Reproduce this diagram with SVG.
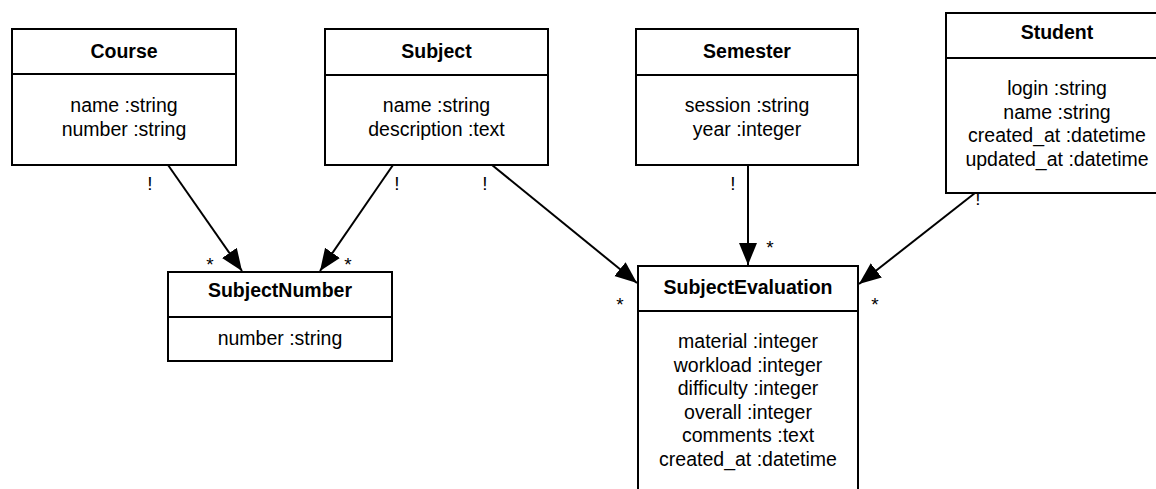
<svg xmlns="http://www.w3.org/2000/svg" width="1156" height="489" viewBox="0 0 1156 489">
<style>
.box{fill:#fff;stroke:#000;stroke-width:2}
.div{stroke:#000;stroke-width:2}
.t{font-family:"Liberation Sans",Arial,sans-serif;font-size:19.5px;font-weight:bold;text-anchor:middle;fill:#000}
.a{font-family:"Liberation Sans",Arial,sans-serif;font-size:19.5px;text-anchor:middle;fill:#000}
.m{font-family:"Liberation Sans",Arial,sans-serif;font-size:19px;text-anchor:middle;fill:#000}
.c{stroke:#000;stroke-width:2;fill:none;marker-end:url(#arr)}
</style>
<defs>
<marker id="arr" markerUnits="userSpaceOnUse" markerWidth="24" markerHeight="20" refX="22" refY="9" orient="auto">
<path d="M0,0 L22,9 L0,18 z" fill="#000"/>
</marker>
</defs>
<rect width="1156" height="489" fill="#fff"/>
<g id="course">
<rect class="box" x="12" y="29" width="224" height="136"/>
<line class="div" x1="12" y1="74" x2="236" y2="74"/>
<text class="t" x="124" y="58">Course</text>
<text class="a" x="124" y="112">name :string</text>
<text class="a" x="124" y="136">number :string</text>
</g>
<g id="subject">
<rect class="box" x="325" y="29" width="223" height="136"/>
<line class="div" x1="325" y1="75" x2="548" y2="75"/>
<text class="t" x="436.5" y="58">Subject</text>
<text class="a" x="436.5" y="112">name :string</text>
<text class="a" x="436.5" y="136">description :text</text>
</g>
<g id="semester">
<rect class="box" x="636" y="29" width="222" height="136"/>
<line class="div" x1="636" y1="75" x2="858" y2="75"/>
<text class="t" x="747" y="58">Semester</text>
<text class="a" x="747" y="112">session :string</text>
<text class="a" x="747" y="136">year :integer</text>
</g>
<g id="student">
<rect class="box" x="946" y="13" width="222" height="180"/>
<line class="div" x1="946" y1="58" x2="1168" y2="58"/>
<text class="t" x="1057" y="39">Student</text>
<text class="a" x="1057" y="95">login :string</text>
<text class="a" x="1057" y="118.5">name :string</text>
<text class="a" x="1057" y="142">created_at :datetime</text>
<text class="a" x="1057" y="165.5">updated_at :datetime</text>
</g>
<g id="subjectnumber">
<rect class="box" x="168" y="272" width="224" height="89"/>
<line class="div" x1="168" y1="317" x2="392" y2="317"/>
<text class="t" x="280" y="297">SubjectNumber</text>
<text class="a" x="280" y="345">number :string</text>
</g>
<g id="subjectevaluation">
<rect class="box" x="638" y="266" width="220" height="240"/>
<line class="div" x1="638" y1="311" x2="858" y2="311"/>
<text class="t" x="748" y="294">SubjectEvaluation</text>
<text class="a" x="748" y="348">material :integer</text>
<text class="a" x="748" y="371.5">workload :integer</text>
<text class="a" x="748" y="395">difficulty :integer</text>
<text class="a" x="748" y="418.5">overall :integer</text>
<text class="a" x="748" y="442">comments :text</text>
<text class="a" x="748" y="465.5">created_at :datetime</text>
</g>
<g id="connectors">
<line class="c" x1="168" y1="165" x2="242" y2="271"/>
<line class="c" x1="393" y1="165" x2="320" y2="271"/>
<line class="c" x1="492" y1="165" x2="637" y2="283"/>
<line class="c" x1="748" y1="165" x2="748" y2="265"/>
<line class="c" x1="975" y1="193" x2="859" y2="284"/>
<text class="m" x="150" y="190">!</text>
<text class="m" x="397" y="190">!</text>
<text class="m" x="485" y="190">!</text>
<text class="m" x="733" y="190">!</text>
<text class="m" x="978" y="205">!</text>
<text class="m" x="210" y="271">*</text>
<text class="m" x="348" y="271">*</text>
<text class="m" x="620" y="311">*</text>
<text class="m" x="770" y="254">*</text>
<text class="m" x="875" y="311">*</text>
</g>
</svg>
